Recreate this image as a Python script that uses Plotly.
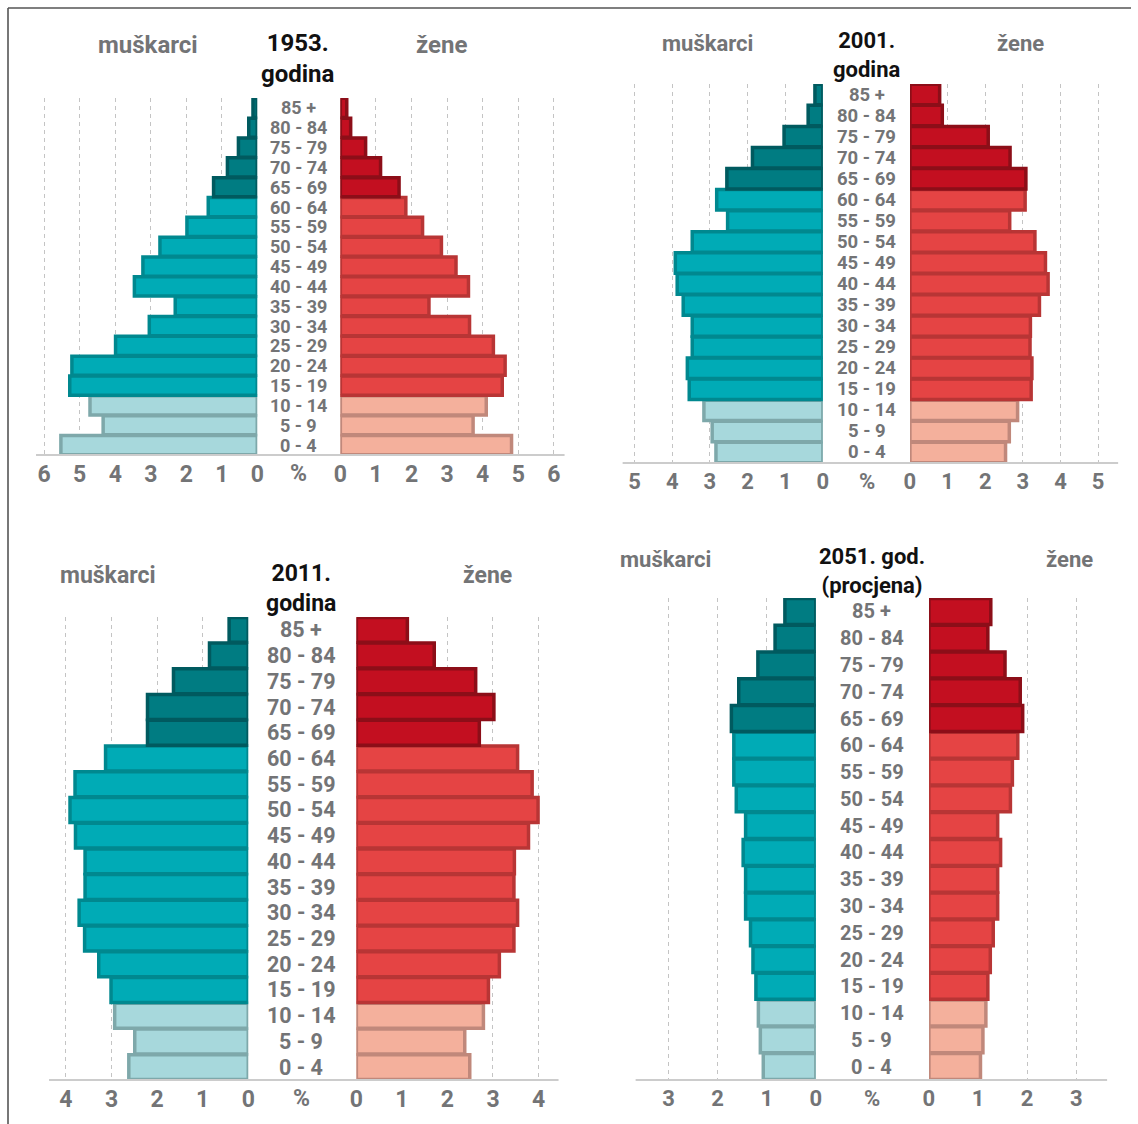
import plotly.graph_objects as go

# age groups, bottom to top
ages = ["0 - 4", "5 - 9", "10 - 14", "15 - 19", "20 - 24", "25 - 29", "30 - 34",
        "35 - 39", "40 - 44", "45 - 49", "50 - 54", "55 - 59", "60 - 64",
        "65 - 69", "70 - 74", "75 - 79", "80 - 84", "85 +"]

# shares in %
m1953 = [5.53, 4.34, 4.71, 5.28, 5.22, 3.99, 3.04, 2.31, 3.46, 3.22, 2.74, 1.98, 1.38, 1.23, 0.84, 0.53, 0.24, 0.12]
f1953 = [4.81, 3.73, 4.10, 4.55, 4.63, 4.30, 3.63, 2.49, 3.60, 3.25, 2.84, 2.31, 1.84, 1.65, 1.13, 0.71, 0.29, 0.18]
m2001 = [2.84, 2.94, 3.16, 3.55, 3.60, 3.47, 3.47, 3.71, 3.87, 3.92, 3.47, 2.53, 2.82, 2.55, 1.87, 1.03, 0.39, 0.21]
f2001 = [2.54, 2.64, 2.86, 3.22, 3.24, 3.19, 3.20, 3.44, 3.67, 3.60, 3.32, 2.65, 3.06, 3.08, 2.66, 2.08, 0.86, 0.79]
m2011 = [2.62, 2.49, 2.93, 3.01, 3.28, 3.59, 3.71, 3.58, 3.58, 3.79, 3.91, 3.80, 3.13, 2.21, 2.21, 1.64, 0.85, 0.42]
f2011 = [2.49, 2.38, 2.79, 2.90, 3.14, 3.46, 3.54, 3.46, 3.47, 3.78, 3.99, 3.86, 3.54, 2.70, 3.02, 2.62, 1.71, 1.12]
m2051 = [1.07, 1.13, 1.17, 1.22, 1.28, 1.33, 1.43, 1.43, 1.48, 1.43, 1.62, 1.67, 1.67, 1.72, 1.57, 1.18, 0.83, 0.63]
f2051 = [1.05, 1.10, 1.16, 1.20, 1.25, 1.31, 1.40, 1.40, 1.46, 1.40, 1.66, 1.70, 1.81, 1.91, 1.86, 1.55, 1.20, 1.26]

titles = ["1953.<br>godina", "2001.<br>godina", "2011.<br>godina", "2051. god.<br>(procjena)"]
ticks = [[0, 1, 2, 3, 4, 5, 6], [0, 1, 2, 3, 4, 5], [0, 1, 2, 3, 4], [0, 1, 2, 3]]

W, H = 1138, 1124
FONT = "Roboto, Liberation Sans, Arial, sans-serif"
GREY = "#737476"

# colours: children / working age / 65+
m_fill = ["#a7d8dc", "#00abb6", "#007c82"]
m_line = ["#7ea8aa", "#00888f", "#005a5f"]
f_fill = ["#f4b09c", "#e54444", "#c30f20"]
f_line = ["#c0887b", "#b83535", "#8c0e18"]


def grp(i):
    return 0 if i < 3 else (1 if i < 13 else 2)


# target pixel -> paper fraction (small horizontal correction measured on the photographed page)
def px(x):
    return ((x - 7) / 0.9867) / W


def py(y):
    return 1 - y / H


# panel geometry in pixels
panels = [
    dict(m=m1953, f=f1953, lx=(36, 257), lr=6.23, rx=(340, 564), rr=6.3, yb=455, yt=98,
         cx=298, head=45, ttl=58, mk=148, zn=441, tick=473, fs=18, hs=24, ts=23),
    dict(m=m2001, f=f2001, lx=(622, 822), lr=5.32, rx=(909, 1117), rr=5.53, yb=463, yt=84,
         cx=866, head=44, ttl=55, mk=707, zn=1019, tick=481, fs=18.5, hs=22, ts=22),
    dict(m=m2011, f=f2011, lx=(49, 248), lr=4.37, rx=(356, 558), rr=4.44, yb=1080, yt=617,
         cx=301, head=575, ttl=588, mk=108, zn=487, tick=1098, fs=21.5, hs=23, ts=23),
    dict(m=m2051, f=f2051, lx=(635, 815), lr=3.67, rx=(928, 1106), rr=3.63, yb=1080, yt=598,
         cx=871, head=559, ttl=571, mk=665, zn=1068, tick=1098, fs=20, hs=22, ts=22),
]

fig = go.Figure()
layout = dict(width=W, height=H, margin=dict(l=0, r=0, t=0, b=0),
              paper_bgcolor="white", plot_bgcolor="white", showlegend=False,
              bargap=0.03, font=dict(family=FONT, color=GREY))
annotations = []
shapes = []

for k, p in enumerate(panels):
    xl, xr, yy = 2 * k + 1, 2 * k + 2, k + 1
    xl_name = "xaxis" if xl == 1 else f"xaxis{xl}"
    xr_name = f"xaxis{xr}"
    y_name = "yaxis" if yy == 1 else f"yaxis{yy}"
    xl_ref = "x" if xl == 1 else f"x{xl}"
    xr_ref = f"x{xr}"
    y_ref = "y" if yy == 1 else f"y{yy}"

    fig.add_trace(go.Bar(
        x=p["m"], y=ages, orientation="h", xaxis=xl_ref, yaxis=y_ref,
        marker=dict(color=[m_fill[grp(i)] for i in range(len(ages))],
                    line=dict(color=[m_line[grp(i)] for i in range(len(ages))], width=3.5)),
        hoverinfo="x+y"))
    fig.add_trace(go.Bar(
        x=p["f"], y=ages, orientation="h", xaxis=xr_ref, yaxis=y_ref,
        marker=dict(color=[f_fill[grp(i)] for i in range(len(ages))],
                    line=dict(color=[f_line[grp(i)] for i in range(len(ages))], width=3.5)),
        hoverinfo="x+y"))

    common = dict(tickvals=ticks[k], showgrid=True, gridcolor="#c4c4c4", griddash="4px,4px",
                  gridwidth=1.2, zeroline=False, showline=False, ticks="",
                  tickfont=dict(family=FONT, size=p["ts"], color=GREY, weight="bold"),
                  ticklabelstandoff=3, fixedrange=True)
    layout[xl_name] = dict(domain=[px(p["lx"][0]), px(p["lx"][1])], range=[p["lr"], 0],
                           anchor=y_ref, **common)
    layout[xr_name] = dict(domain=[px(p["rx"][0]), px(p["rx"][1])], range=[0, p["rr"]],
                           anchor=y_ref, **common)
    layout[y_name] = dict(domain=[py(p["yb"]), py(p["yt"])], type="category",
                          categoryarray=ages, range=[-0.5, len(ages) - 0.5],
                          showticklabels=False, showgrid=False, zeroline=False,
                          anchor=xl_ref, fixedrange=True)

    # axis base line across the whole pyramid
    shapes.append(dict(type="line", xref="paper", yref="paper",
                       x0=px(p["lx"][0]), x1=px(p["rx"][1]), y0=py(p["yb"]), y1=py(p["yb"]),
                       line=dict(color="#cccccc", width=2)))

    # age labels in the middle
    for a in ages:
        annotations.append(dict(x=px(p["cx"]), xref="paper", y=a, yref=y_ref, text=a,
                                showarrow=False, xanchor="center", yanchor="middle",
                                borderpad=0,
                                font=dict(family=FONT, size=p["fs"], color=GREY, weight="bold")))

    annotations += [
        dict(x=px(p["cx"]), y=py(p["ttl"]), text=titles[k],
             font=dict(family=FONT, size=p["hs"], color="#111111", weight="bold")),
        dict(x=px(p["mk"]), y=py(p["head"]), text="muškarci",
             font=dict(family=FONT, size=p["hs"], color=GREY, weight="bold")),
        dict(x=px(p["zn"]), y=py(p["head"]), text="žene",
             font=dict(family=FONT, size=p["hs"], color=GREY, weight="bold")),
        dict(x=px(p["cx"]), y=py(p["tick"]), text="%",
             font=dict(family=FONT, size=p["ts"], color=GREY, weight="bold")),
    ]

for a in annotations:
    if "xref" not in a:
        a.update(xref="paper", yref="paper", showarrow=False, xanchor="center",
                 yanchor="middle")

# frame lines: top and left
shapes.append(dict(type="line", xref="paper", yref="paper", x0=px(8), x1=1, y0=py(8), y1=py(8),
                   line=dict(color="#555555", width=1.6)))
shapes.append(dict(type="line", xref="paper", yref="paper", x0=px(8), x1=px(8), y0=py(8), y1=0,
                   line=dict(color="#555555", width=1.6)))

layout["annotations"] = annotations
layout["shapes"] = shapes
fig.update_layout(**layout)

# page without body margin or scrollbars so the figure fills the window
fig.write_html(
    "out.html",
    config={"displayModeBar": False},
    post_script=("document.documentElement.style.overflow = 'hidden';"
                 "document.body.style.overflow = 'hidden';"
                 "document.body.style.margin = '0';"),
)
